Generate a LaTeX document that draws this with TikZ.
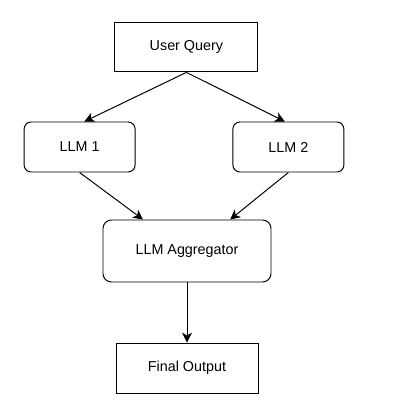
\documentclass[tikz,border=0pt]{standalone}
\usepackage{fontspec}
\setmainfont{Liberation Sans}
\usetikzlibrary{arrows.meta}

\begin{document}
\begin{tikzpicture}[
    >={Stealth[length=7pt,width=7pt,inset=2pt]},
    line width=0.7pt,
    font=\fontsize{10.2}{12}\selectfont,
    plainbox/.style={draw, fill=white, align=center, minimum width=3.575cm, minimum height=1.225cm},
    llmbox/.style={draw, fill=white, rounded corners=5pt, align=center, minimum width=2.775cm, minimum height=1.25cm},
]
\useasboundingbox (0,0) rectangle (10.15,10.325);

\node[plainbox] (userquery) at (4.66, 9.14) {User Query};
\node[llmbox] (llmone) at (1.99, 6.65) {LLM 1};
\node[llmbox] (llmtwo) at (7.21, 6.65) {LLM 2};
\node[llmbox, rounded corners=6pt, minimum width=4.2cm, minimum height=1.55cm] (aggregator) at (4.675, 4.05) {LLM Aggregator};
\node[plainbox, minimum width=3.55cm, minimum height=1.25cm] (finaloutput) at (4.675, 1.125) {Final Output};

\draw[->] (userquery.south) -- ([xshift=0.12cm]llmone.north);
\draw[->] (userquery.south) -- ([xshift=-0.09cm]llmtwo.north);
\draw[->] (llmone.south) -- ([xshift=-1.1cm]aggregator.north);
\draw[->] (llmtwo.south) -- ([xshift=1.08cm]aggregator.north);
\draw[->] (aggregator) -- (finaloutput);

\end{tikzpicture}
\end{document}
